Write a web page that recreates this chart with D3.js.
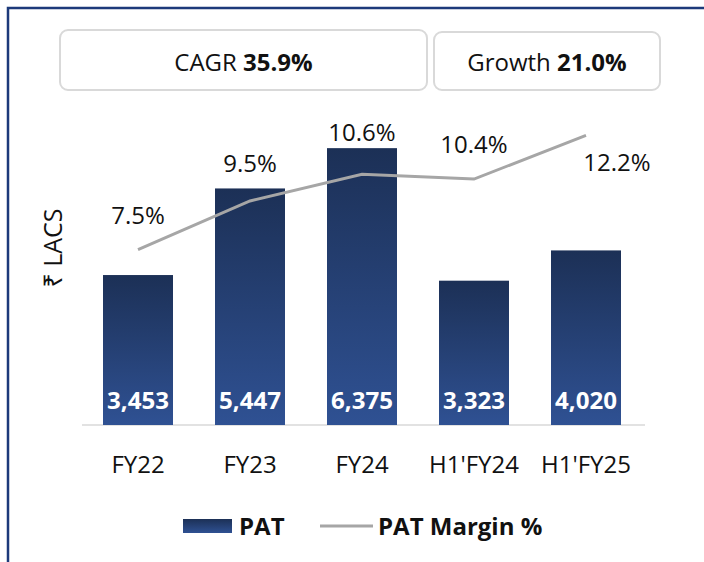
<!DOCTYPE html>
<html>
<head>
<meta charset="utf-8">
<script src="https://cdn.jsdelivr.net/npm/d3@7"></script>
<style>
  body { margin: 0; background: #fff; }
  svg { display: block; font-family: "Open Sans", "Noto Sans", sans-serif; }
</style>
</head>
<body>
<svg id="chart"></svg>
<script>
const periods = ["FY22", "FY23", "FY24", "H1'FY24", "H1'FY25"];
const pat = [3453, 5447, 6375, 3323, 4020];
const patMargin = [7.5, 9.5, 10.6, 10.4, 12.2];
const headlines = [
  { label: "CAGR", value: "35.9%" },
  { label: "Growth", value: "21.0%" }
];

const width = 704;
const height = 562;

const svg = d3.select("#chart").attr("width", width).attr("height", height);

// frame (left + top only)
svg.append("path")
  .attr("d", `M8,${height} V8 H${width}`)
  .attr("fill", "none")
  .attr("stroke", "#1d3a7a")
  .attr("stroke-width", 2.5);

// gradient for bars
const defs = svg.append("defs");
const grad = defs.append("linearGradient")
  .attr("id", "barGrad")
  .attr("x1", 0).attr("y1", 0).attr("x2", 0).attr("y2", 1);
grad.append("stop").attr("offset", "0%").attr("stop-color", "#1c3056");
grad.append("stop").attr("offset", "100%").attr("stop-color", "#2f5193");

// headline boxes
const boxes = [
  { x: 60, y: 30, w: 367, h: 60 },
  { x: 434, y: 32, w: 226, h: 58 }
];
headlines.forEach((h, i) => {
  const b = boxes[i];
  svg.append("rect")
    .attr("x", b.x).attr("y", b.y)
    .attr("width", b.w).attr("height", b.h)
    .attr("rx", 8)
    .attr("fill", "#fff")
    .attr("stroke", "#d9d9d9")
    .attr("stroke-width", 2);
  const t = svg.append("text")
    .attr("x", b.x + b.w / 2)
    .attr("y", 71)
    .attr("text-anchor", "middle")
    .attr("font-size", 24)
    .attr("fill", "#111");
  t.append("tspan").text(h.label + " ");
  t.append("tspan").attr("font-weight", "bold").text(h.value);
});

const x = d3.scaleBand()
  .domain(periods)
  .range([82, 642])
  .paddingInner(0.375)
  .paddingOuter(0.1875);

const y = d3.scaleLinear().domain([0, 7000]).range([425, 121]);
const y2 = d3.scaleLinear().domain([0, 12.5]).range([432, 128]);

// baseline
svg.append("line")
  .attr("x1", 82).attr("x2", 645)
  .attr("y1", 425).attr("y2", 425)
  .attr("stroke", "#d9d9d9")
  .attr("stroke-width", 1.5);

// bars
svg.selectAll("rect.bar")
  .data(pat)
  .enter()
  .append("rect")
  .attr("class", "bar")
  .attr("x", (d, i) => x(periods[i]))
  .attr("y", (d) => y(d))
  .attr("width", x.bandwidth())
  .attr("height", (d) => y(0) - y(d))
  .attr("fill", "url(#barGrad)");

// bar value labels
svg.selectAll("text.val")
  .data(pat)
  .enter()
  .append("text")
  .attr("class", "val")
  .attr("x", (d, i) => x(periods[i]) + x.bandwidth() / 2)
  .attr("y", 409)
  .attr("text-anchor", "middle")
  .attr("font-size", 23)
  .attr("font-weight", "bold")
  .attr("fill", "#fff")
  .attr("textLength", 62)
  .attr("lengthAdjust", "spacingAndGlyphs")
  .text((d) => d3.format(",")(d));

// x axis labels
const xAxis = d3.axisBottom(x).tickSize(0).tickPadding(0);
const gx = svg.append("g")
  .attr("transform", "translate(0, 425)")
  .call(xAxis);
gx.select(".domain").remove();
gx.selectAll("text")
  .attr("dy", 0)
  .attr("y", 48)
  .attr("font-size", 24)
  .attr("font-family", "'Open Sans', sans-serif")
  .attr("fill", "#111");

// margin line
const cx = (i) => x(periods[i]) + x.bandwidth() / 2;
const line = d3.line()
  .x((d, i) => cx(i))
  .y((d) => y2(d));
svg.append("path")
  .datum(patMargin)
  .attr("d", line)
  .attr("fill", "none")
  .attr("stroke", "#a6a6a6")
  .attr("stroke-width", 3);

// margin labels
const labelOffsets = [[0, -26], [0, -29], [0, -33], [0, -26], [31, 36]];
svg.selectAll("text.pct")
  .data(patMargin)
  .enter()
  .append("text")
  .attr("class", "pct")
  .attr("x", (d, i) => cx(i) + labelOffsets[i][0])
  .attr("y", (d, i) => y2(d) + labelOffsets[i][1])
  .attr("text-anchor", "middle")
  .attr("font-size", 24)
  .attr("fill", "#111")
  .text((d) => d.toFixed(1) + "%");

// y axis title
svg.append("text")
  .attr("transform", "translate(62, 248) rotate(-90)")
  .attr("text-anchor", "middle")
  .attr("font-size", 25)
  .attr("fill", "#111")
  .text("₹ LACS");

// legend
svg.append("rect")
  .attr("x", 183).attr("y", 519)
  .attr("width", 49).attr("height", 14)
  .attr("fill", "url(#barGrad)");
svg.append("text")
  .attr("x", 239).attr("y", 535)
  .attr("font-size", 24)
  .attr("font-weight", "bold")
  .attr("fill", "#111")
  .text("PAT");
svg.append("line")
  .attr("x1", 320).attr("x2", 373)
  .attr("y1", 526).attr("y2", 526)
  .attr("stroke", "#a6a6a6")
  .attr("stroke-width", 3);
svg.append("text")
  .attr("x", 378).attr("y", 535)
  .attr("font-size", 24)
  .attr("font-weight", "bold")
  .attr("fill", "#111")
  .text("PAT Margin %");
</script>
</body>
</html>
